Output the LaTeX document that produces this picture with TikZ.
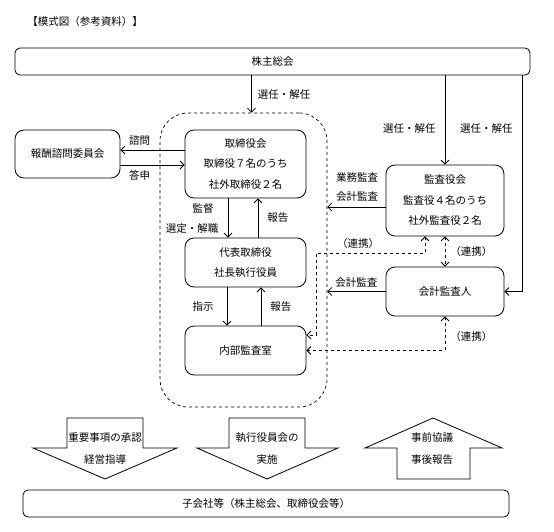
\documentclass[tikz,border=0pt]{standalone}
\usepackage{fontspec}
\newfontfamily\jpfont{Noto Sans CJK JP}
\usetikzlibrary{arrows.meta}
\tikzset{
  jptext/.style={font={\jpfont\fontsize{10.5}{20.5}\selectfont}},
  box/.style={draw, jptext, align=center, rounded corners=9pt, line width=0.8pt},
  arr/.style={line width=0.8pt, -{Straight Barb[length=4pt,width=8pt]}},
  darr/.style={line width=0.8pt, dashed, {Straight Barb[length=4pt,width=8pt]}-{Straight Barb[length=4pt,width=8pt]}},
  lbl/.style={jptext, inner sep=1pt}
}
\begin{document}
\begin{tikzpicture}[x=1pt,y=-1pt]
\useasboundingbox (0,0) rectangle (554,532);
% Title
\node[lbl] (title) at (85,22) {【模式図（参考資料）】};
% Shareholders meeting and subsidiaries
\node[box, rounded corners=5pt, minimum width=515pt, minimum height=27pt] (top) at (272.5,61.5) {株主総会};
\node[box, rounded corners=5pt, minimum width=486pt, minimum height=27pt] (sub) at (266,503.5) {子会社等（株主総会、取締役会等）};
% Dashed group round the executive side
\node[draw, dashed, line width=0.7pt, rounded corners=28pt, minimum width=167pt, minimum height=294pt] (grp) at (243.5,260) {};
% Boxes
\node[box, minimum width=121pt, minimum height=68pt] (bd) at (245.5,164) {取締役会\\取締役７名のうち\\社外取締役２名};
\node[box, minimum width=105pt, minimum height=48pt] (rc) at (67.5,154) {報酬諮問委員会};
\node[box, minimum width=121pt, minimum height=49pt] (rp) at (245.5,262.5) {代表取締役\\社長執行役員};
\node[box, minimum width=121pt, minimum height=49pt] (ia) at (245.5,350.5) {内部監査室};
\node[box, minimum width=118pt, minimum height=71pt] (ab) at (445,200.5) {監査役会\\監査役４名のうち\\社外監査役２名};
\node[box, minimum width=118pt, minimum height=49pt] (au) at (445,291.5) {会計監査人};
% Appointment arrows from the shareholders meeting
\draw[arr] ([xshift=8pt]grp.north |- top.south) -- node[lbl, right=5pt] (l1) {選任・解任} ([xshift=8pt]grp.north);
\draw[arr] (top.south -| ab.north) -- node[lbl, left=8pt, pos=0.59] (l2) {選任・解任} (ab.north);
\coordinate (rt) at (522,0);
\draw[arr] (top.south -| rt) |- node[lbl, left=8pt, pos=0.124] (l3) {選任・解任} (au.east);
% Board and remuneration committee
\draw[arr] ([yshift=4pt]rc.east -| bd.west) -- node[lbl, above=3pt, pos=0.7] (l4) {諮問} ([yshift=4pt]rc.east);
\draw[arr] ([yshift=-11pt]rc.east) -- node[lbl, below=4pt, pos=0.3] (l5) {答申} ([yshift=-11pt]rc.east -| bd.west);
% Board and representative director
\draw[arr] ([xshift=-17.5pt]bd.south) -- ([xshift=-17.5pt]rp.north);
\node[lbl] (l6) at (203,209) {監督};
\node[lbl] (l7) at (192,229) {選定・解職};
\draw[arr] ([xshift=12.5pt]rp.north) -- node[lbl, right=8pt] (l8) {報告} ([xshift=12.5pt]bd.south);
% Representative director and internal audit
\draw[arr] ([xshift=-18.5pt]rp.south) -- node[lbl, left=12pt] (l9) {指示} ([xshift=-18.5pt]ia.north);
\draw[arr] ([xshift=15.5pt]ia.north) -- node[lbl, right=8pt] (l10) {報告} ([xshift=15.5pt]rp.south);
% Audits towards the group
\draw[arr] ([yshift=-6.5pt]ab.west) -- ([yshift=-6.5pt]ab.west -| grp.east);
\node[lbl, align=center, font={\jpfont\fontsize{10.5}{19}\selectfont}] (l11) at (357,187.5) {業務監査\\会計監査};
\draw[arr] (au.west) -- node[lbl, above=3pt] (l12) {会計監査} (au.west -| grp.east);
% Cooperation (dashed)
\coordinate (c1) at (316,253);
\draw[darr] ([xshift=-20pt]ab.south) |- (c1) |- ([yshift=15.5pt]ia.east);
\node[lbl] (l13) at (358,244) {（連携）};
\draw[darr] (ab.south) -- node[lbl, right=4pt] (l14) {（連携）} (au.north);
\draw[darr] (au.south) |- node[lbl, pos=0.3, right=4pt] (l15) {（連携）} (ia.east);
% Block arrows towards and from subsidiaries
\draw[line width=0.8pt] (67,418) -- (143,418) -- (143,448) -- (177,448) -- (105,479) -- (33,448) -- (67,448) -- cycle;
\node[lbl, align=center, font={\jpfont\fontsize{10.5}{22}\selectfont}] (a1) at (105,449) {重要事項の承認\\経営指導};
\draw[line width=0.8pt] (229,418) -- (305,418) -- (305,448) -- (338,448) -- (267,479) -- (197,448) -- (229,448) -- cycle;
\node[lbl, align=center, font={\jpfont\fontsize{10.5}{22}\selectfont}] (a2) at (267,449) {執行役員会の\\実施};
\draw[line width=0.8pt] (433,418) -- (502,448) -- (470,448) -- (470,479) -- (397,479) -- (397,448) -- (365,448) -- cycle;
\node[lbl, align=center, font={\jpfont\fontsize{10.5}{22}\selectfont}] (a3) at (432,449) {事前協議\\事後報告};
\end{tikzpicture}
\end{document}
